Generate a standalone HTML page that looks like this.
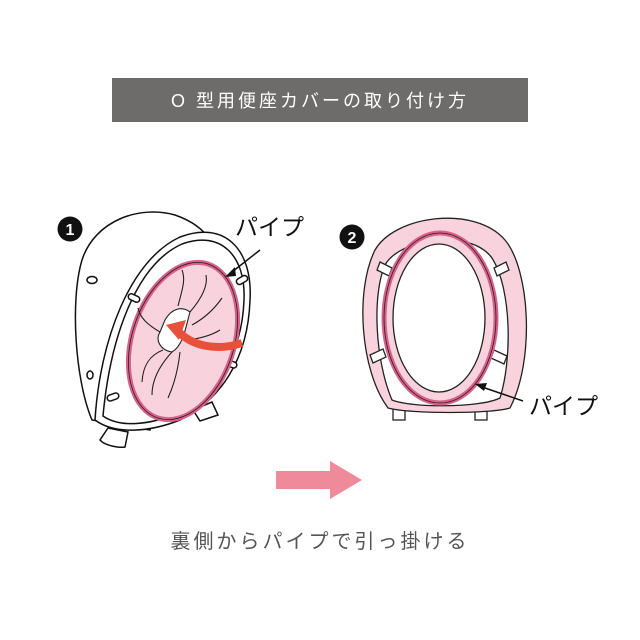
<!DOCTYPE html>
<html><head><meta charset="utf-8"><style>
body{margin:0;background:#fff;width:640px;height:640px;overflow:hidden}
svg{display:block}
</style></head><body>
<svg width="640" height="640" viewBox="0 0 640 640" xmlns="http://www.w3.org/2000/svg">
<rect x="112" y="78" width="416" height="44" fill="#6e6b6b"/>
<text x="320" y="107" text-anchor="middle" fill="#fff" font-family="Liberation Sans,'Noto Sans CJK JP',sans-serif" font-size="18" letter-spacing="3">O 型用便座カバーの取り付け方</text>

<!-- Diagram 1 -->
<g stroke="#111" stroke-width="1.5" fill="#fff">
<path d="M92 420 C75 380 70 300 82 260 C95 220 140 205 175 215 C195 222 205 232 210 240 L150 430 Z"/>
<path d="M108 428 L100 440 C105 446 120 448 125 447 L128 432 Z"/>
<path d="M95 420 C100 340 130 260 180 237 C225 220 253 250 250 300 C248 360 220 400 180 420 C150 432 115 435 95 420 Z"/>
<path d="M103 416 C110 340 135 265 182 244 C220 230 246 255 244 300 C242 355 215 395 178 413 C150 425 120 428 103 416 Z" fill="none"/>
<path d="M193 410 L212 402 L218 415 L200 421 Z"/>
<ellipse cx="92" cy="280" rx="5" ry="3.5"/>
<ellipse cx="90" cy="375" rx="3" ry="4"/>
<rect x="128" y="295" width="12" height="6" rx="3" transform="rotate(25 134 298)"/>
<rect x="236" y="277" width="12" height="6" rx="3" transform="rotate(-30 242 280)"/>
<rect x="225" y="361" width="12" height="6" rx="3" transform="rotate(20 231 364)"/>
<rect x="107" y="394" width="12" height="6" rx="3" transform="rotate(-20 113 397)"/>
</g>
<ellipse cx="183" cy="341" rx="51" ry="81" transform="rotate(18 183 341)" fill="#f8d2dc" stroke="#d9608a" stroke-width="5"/>
<ellipse cx="183" cy="341" rx="51" ry="81" transform="rotate(18 183 341)" fill="none" stroke="#222" stroke-width="0.8"/>
<g stroke="#222" stroke-width="1.1" fill="none">
<path d="M165 320 C172 308 182 306 190 312 C186 325 184 345 172 352 C160 350 155 340 160 332 Z" fill="#fff"/>
<path d="M178 306 C182 290 186 280 182 270"/>
<path d="M190 312 C202 298 208 285 206 275"/>
<path d="M192 325 C205 318 215 308 222 298"/>
<path d="M188 340 C203 338 212 335 220 330"/>
<path d="M172 352 C160 365 152 380 152 395"/>
<path d="M163 350 C150 355 143 365 142 382"/>
<path d="M180 352 C178 370 174 385 168 398"/>
<path d="M160 332 C148 325 140 318 138 308"/>
</g>
<path d="M242 343 C215 352 190 345 177 330" stroke="#e8503a" stroke-width="8" fill="none"/>
<path d="M166 325 L186 320 L179 340 Z" fill="#e8503a"/>
<line x1="260" y1="250" x2="232" y2="272" stroke="#111" stroke-width="1.5"/>
<path d="M225 277 L235 267 L236 276 Z" fill="#111"/>
<circle cx="70" cy="229" r="12.5" fill="#111"/>
<text x="70" y="235" text-anchor="middle" fill="#fff" font-family="Liberation Sans,sans-serif" font-weight="bold" font-size="16">1</text>
<text x="235" y="235" font-family="Liberation Sans,'Noto Sans CJK JP',sans-serif" font-size="23" fill="#111">パイプ</text>

<!-- Diagram 2 -->
<g stroke="#222" stroke-width="1.3">
<rect x="393" y="402" width="12" height="18" fill="#fff"/>
<rect x="475" y="402" width="12" height="18" fill="#fff"/>
<path d="M388 408 C360 370 355 290 375 250 C395 215 475 205 505 240 C530 270 535 360 510 408 C490 414 410 414 388 408 Z" fill="#f8d2dc"/>
<path d="M392 400 C375 360 372 295 385 265 C400 238 470 228 492 258 C512 290 512 360 500 398 C480 408 412 408 392 400 Z" fill="#fff"/>
<path d="M380 262 L392 268 L389 276 L377 270 Z" fill="#fff"/>
<path d="M494 268 L506 262 L509 270 L497 276 Z" fill="#fff"/>
<path d="M370 355 L383 349 L386 357 L373 363 Z" fill="#fff"/>
<path d="M494 350 L507 356 L504 364 L491 358 Z" fill="#fff"/>
</g>
<ellipse cx="440" cy="318" rx="56" ry="85" fill="#f8d2dc" stroke="#d9608a" stroke-width="5"/>
<ellipse cx="440" cy="318" rx="56" ry="85" fill="none" stroke="#222" stroke-width="0.8"/>
<ellipse cx="439" cy="318" rx="46" ry="74" fill="#fff" stroke="#222" stroke-width="1.3"/>
<line x1="523" y1="401" x2="482" y2="387" stroke="#111" stroke-width="1.5"/>
<path d="M475 384 L487 383 L484 391 Z" fill="#111"/>
<circle cx="352" cy="237" r="12.5" fill="#111"/>
<text x="352" y="243" text-anchor="middle" fill="#fff" font-family="Liberation Sans,sans-serif" font-weight="bold" font-size="16">2</text>
<text x="529" y="414" font-family="Liberation Sans,'Noto Sans CJK JP',sans-serif" font-size="23" fill="#111">パイプ</text>

<path d="M276 471 L330 471 L330 461 L362 480 L330 499 L330 489 L276 489 Z" fill="#ee8a9a"/>
<text x="320" y="548" text-anchor="middle" fill="#555" font-family="Liberation Sans,'Noto Sans CJK JP',sans-serif" font-size="20" letter-spacing="3">裏側からパイプで引っ掛ける</text>
</svg>
</body></html>
